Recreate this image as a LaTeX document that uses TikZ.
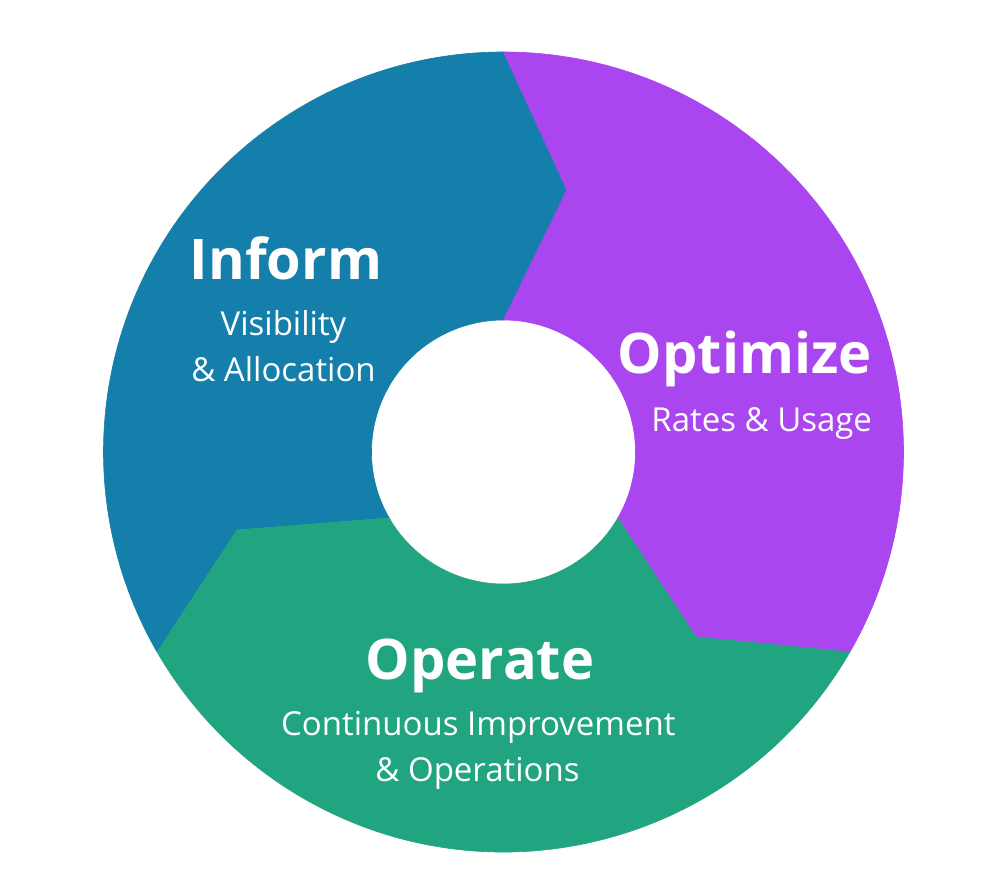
\documentclass[tikz,border=0pt]{standalone}
\usepackage{fontspec}
\setmainfont{Open Sans}[Ligatures=NoCommon]
\definecolor{informblue}{HTML}{137FAA}
\definecolor{optpurple}{HTML}{A946F0}
\definecolor{opgreen}{HTML}{21A580}
\tikzset{
  bigtitle/.style={text=white,inner sep=0pt,anchor=base,font=\fontsize{56}{56}\selectfont\bfseries},
  subtitle/.style={text=white,inner sep=0pt,anchor=base,font=\fontsize{33}{33}\selectfont},
  seg/.style={line width=0.6pt,line join=miter}
}
\begin{document}
\begin{tikzpicture}[x=1pt,y=1pt]
\useasboundingbox (0,0) rectangle (986,890);
\begin{scope}[shift={(503.5,438)}]
  % Inform (blue)
  \filldraw[seg,fill=informblue,draw=informblue]
    (90:400pt) arc[start angle=90,end angle=210,radius=400pt]
    -- (196.3:277.7pt) -- (210:132pt)
    arc[start angle=210,end angle=90,radius=132pt]
    -- (76.4:269.6pt) -- cycle;
  % Optimize (purple)
  \filldraw[seg,fill=optpurple,draw=optpurple]
    (90:400pt) arc[start angle=90,end angle=-30,radius=400pt]
    -- (-43.86:267pt) -- (-30:132pt)
    arc[start angle=-30,end angle=90,radius=132pt]
    -- (76.4:269.6pt) -- cycle;
  % Operate (green)
  \filldraw[seg,fill=opgreen,draw=opgreen]
    (-30:400pt) arc[start angle=-30,end angle=-150,radius=400pt]
    -- (196.3:277.7pt) -- (-150:132pt)
    arc[start angle=-150,end angle=-30,radius=132pt]
    -- (-43.86:267pt) -- cycle;
\end{scope}
\node[bigtitle] (inform) at (286,610) {Inform};
\node[subtitle] (informa) at (283.5,554) {Visibility};
\node[subtitle] (informb) at (283.5,508.3) {\&~Allocation};
\node[bigtitle] (optimize) at (744.7,516) {Optimize};
\node[subtitle] (optimizea) at (761.7,458.3) {Rates \& Usage};
\node[bigtitle] (operate) at (480,210.5) {Operate};
\node[subtitle] (operatea) at (478.3,154) {Continuous Improvement};
\node[subtitle] (operateb) at (477.5,108.3) {\&~Operations};
\end{tikzpicture}
\end{document}
